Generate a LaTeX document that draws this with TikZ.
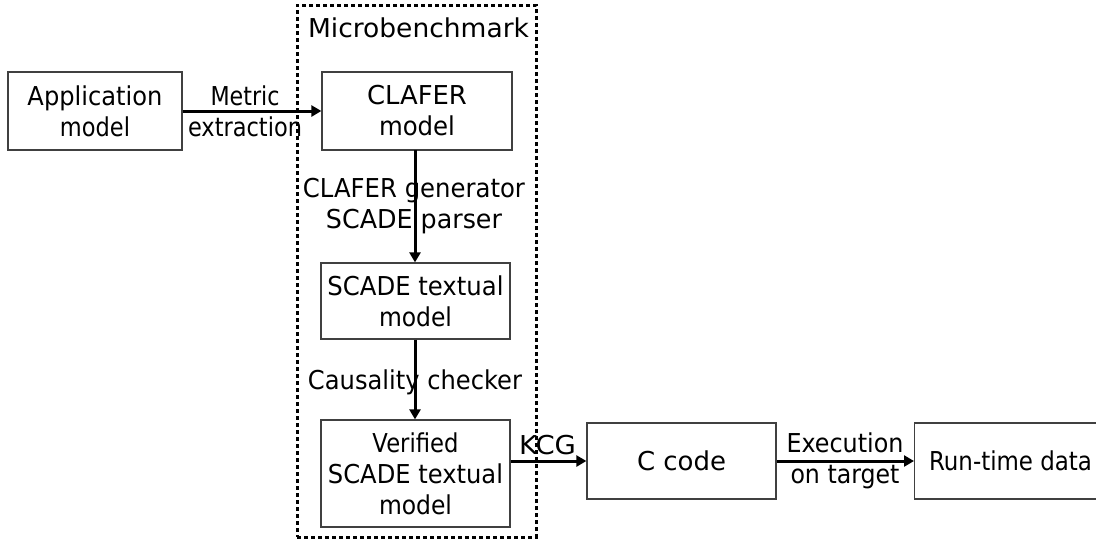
\documentclass[tikz,border=0pt]{standalone}
\usepackage{fontspec}
\usepackage{graphicx}
\setmainfont{DejaVu Sans}
\usetikzlibrary{arrows.meta}
\newcommand{\fw}[2]{\resizebox{#1}{\height}{#2}}
\tikzset{
  box/.style={draw=black!75, line width=1.3pt, inner sep=0pt, align=center, font=\fontsize{26}{31}\selectfont},
  conn/.style={line width=3pt, -{Triangle[length=10pt,width=11pt]}},
  lbl/.style={inner sep=0pt, align=center, font=\fontsize{26}{31}\selectfont},
  frame/.style={draw, line width=3pt, dash pattern=on 4pt off 3pt, inner sep=0pt}
}
\begin{document}
\begin{tikzpicture}[x=1pt,y=-1pt]
\useasboundingbox (0,0) rectangle (1096,539);
\clip (0,0) rectangle (1096,539);
\node[frame, minimum width=239pt, minimum height=532pt] (micro) at (416.5,271) {};
\node[lbl] (microlbl) at (418.5,27.5) {\fw{221pt}{Microbenchmark}};
\node[box, minimum width=174pt, minimum height=78pt] (app) at (95,111) {\fw{135pt}{Application}\\\fw{70pt}{model}};
\node[box, minimum width=190pt, minimum height=78pt] (clafer) at (417,111) {\fw{100pt}{CLAFER}\\\fw{76pt}{model}};
\node[box, minimum width=189pt, minimum height=76pt] (scade) at (415.5,301) {\fw{176pt}{SCADE textual}\\\fw{73pt}{model}};
\node[box, minimum width=189pt, minimum height=107pt] (verified) at (415.5,473.5) {\fw{86pt}{Verified}\\\fw{175pt}{SCADE textual}\\\fw{73pt}{model}};
\node[box, minimum width=189pt, minimum height=76pt] (ccode) at (681.5,461) {\fw{89pt}{C code}};
\node[box, minimum width=200pt, minimum height=76pt, anchor=west] (runtime) at (914,461) {};
\node[lbl] (runtimelbl) at (1010.5,461) {\fw{163pt}{Run-time data}};
\draw[conn] (app.east) -- (clafer.west);
\node[lbl] (metric) at (245,111) {\fw{69pt}{Metric}\\\fw{114pt}{extraction}};
\draw[conn] (415,150) coordinate (c1) -- (scade.north -| c1);
\node[lbl] (gen) at (414,206) {\fw{222pt}{CLAFER generator}\\\fw{176pt}{SCADE parser}};
\draw[conn] (scade.south -| c1) -- (verified.north -| c1);
\node[lbl] (caus) at (415,382) {\fw{214pt}{Causality checker}};
\draw[conn] (verified.east |- ccode.west) -- (ccode.west);
\node[lbl] (kcg) at (547.5,445) {\fw{57pt}{KCG}};
\draw[conn] (ccode.east) -- (runtime.west);
\node[lbl] (exec) at (845,461) {\fw{117pt}{Execution}\\\fw{109pt}{on target}};
\end{tikzpicture}
\end{document}
